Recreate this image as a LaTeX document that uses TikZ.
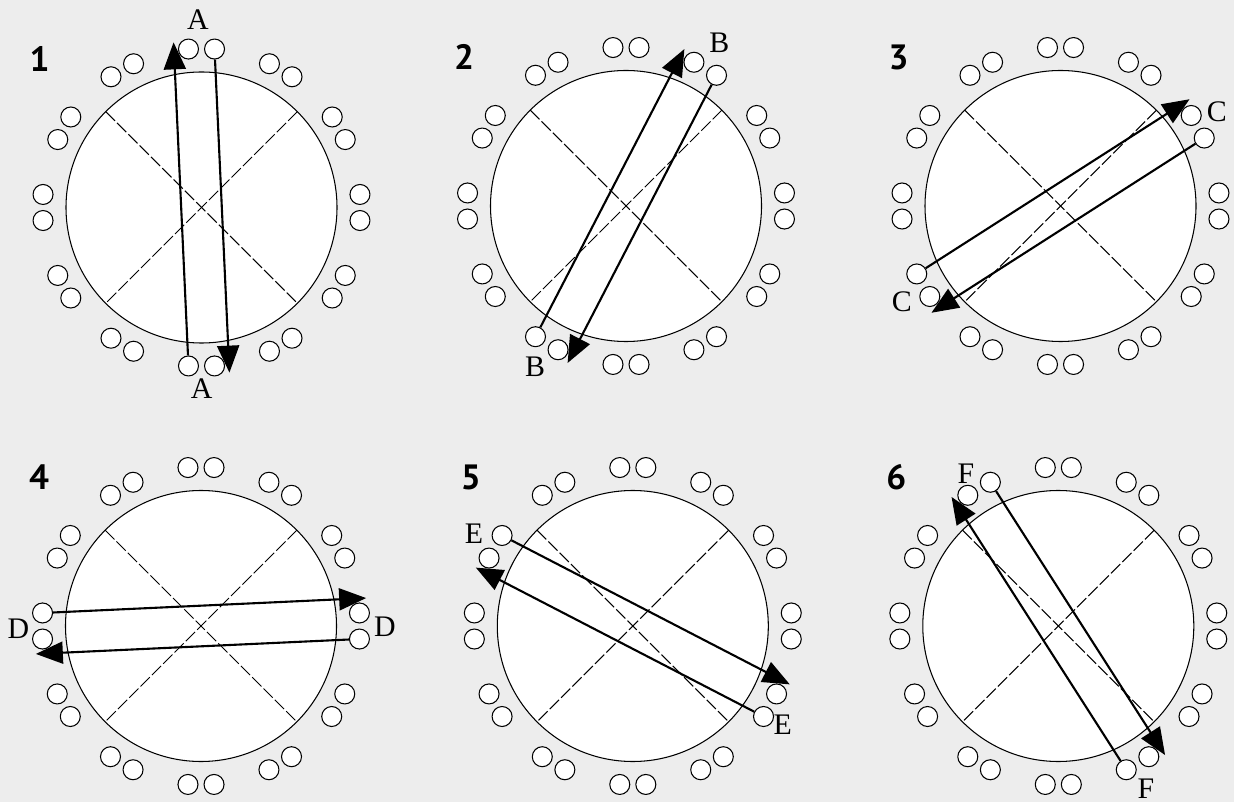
\documentclass[tikz,border=0pt]{standalone}
\usepackage{fontspec}
\setmainfont{Liberation Serif}
\newfontfamily\numfont{PT Sans}
\usetikzlibrary{arrows.meta}
\definecolor{paper}{HTML}{EDEDED}

\begin{document}
\begin{tikzpicture}[x=0.02cm,y=0.02cm]
% Styles
\tikzset{
    disc/.style={draw,fill=white,line width=0.6pt},
    cross/.style={line width=0.6pt,dash pattern=on 0.26cm off 0.06cm},
    slot/.style={circle,draw,fill=white,line width=0.6pt,inner sep=0pt,minimum size=0.4cm},
    wire/.style={line width=1.2pt,-{Triangle[length=0.54cm,width=0.44cm]}},
    tag/.style={inner sep=0pt,font=\fontsize{17}{20}\selectfont},
    panelnum/.style={inner sep=0pt,font=\numfont\bfseries\fontsize{20}{24}\selectfont}
}
% Background
\fill[paper] (0,0) rectangle (1234,802);
\useasboundingbox (0,0) rectangle (1234,802);
% Panels
\foreach \n/\cx/\cy/\a/\ka/\kb/\lab/\lx/\ly/\mx/\my in {
    1/201.5/594.5/90/3/9/A/-3.5/187.5/0.2/-181,
    2/626/596/60/2/8/B/93.3/163.3/-91/-160.7,
    3/1060.5/596/30/1/7/C/156.2/94.3/-158.8/-95.7,
    4/201/176/0/0/6/D/184/-0.7/-182.7/-2.3,
    5/632.8/176/-30/11/5/E/149.9/-99/-158.8/92.7,
    6/1058.3/176/-60/10/4/F/87.7/-162.3/-92.3/152}
{
\begin{scope}[shift={(\cx,\cy)}]
\draw[disc] (0,0) circle[radius=135.5];
\draw[cross] (45:135.5) -- (225:135.5);
\draw[cross] (135:135.5) -- (315:135.5);
% Slots
\foreach \k in {0,...,11}{
    \node[slot] (p\n-\k-a) at (\k*30-4.7:159){};
    \node[slot] (p\n-\k-b) at (\k*30+4.7:159){};
}
% Arrows
\draw[wire] (p\n-\kb-a) -- (\a+9.6:167.5);
\draw[wire] (p\n-\ka-a) -- (\a+189.6:167.5);
\node[tag] (t\n-a) at (\lx,\ly){\lab};
\node[tag] (t\n-b) at (\mx,\my){\lab};
\node[panelnum] (num\n) at (-162,149){\n};
\end{scope}
}
\end{tikzpicture}
\end{document}
